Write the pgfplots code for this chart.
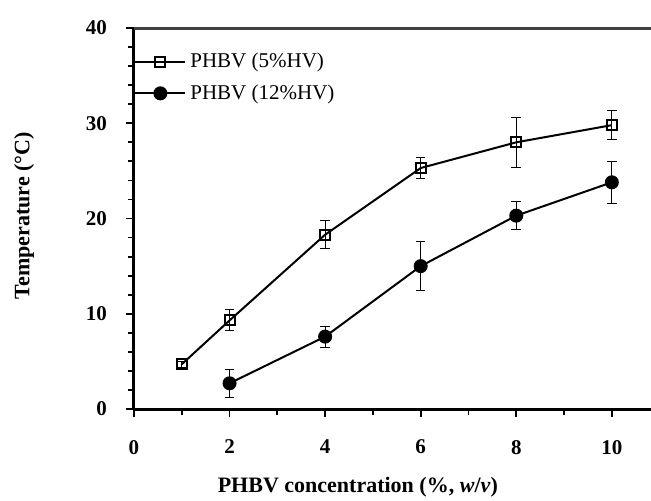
\documentclass[border=0pt]{standalone}
\usepackage{fontspec}
\setmainfont{Liberation Serif}
\usepackage{pgfplots}
\pgfplotsset{compat=1.18}
\pgfplotstableread{
x y e
1 4.7 0.3
2 9.3 1.1
4 18.3 1.5
6 25.3 1.1
8 28.0 2.6
10 29.8 1.5
}\lowhv
\pgfplotstableread{
x y e
2 2.7 1.5
4 7.6 1.1
6 15.0 2.6
8 20.3 1.5
10 23.8 2.2
}\highhv
\begin{document}
\begin{tikzpicture}
\begin{axis}[
  at={(0,0)}, anchor=south west,
  scale only axis, width=258.5pt, height=190.5pt,
  xmin=0, xmax=10.82, ymin=0, ymax=40,
  axis x line*=bottom, axis y line*=left,
  axis line style={line width=1.5pt, -},
  xtick={0,2,4,6,8,10}, minor xtick={1,3,5,7,9},
  ytick={0,10,20,30,40}, minor ytick={2,4,6,8,12,14,16,18,22,24,26,28,32,34,36,38},
  tick align=outside,
  major tick length=4pt, minor tick length=3pt,
  tick style={line width=0.9pt, black},
  /pgf/number format/assume math mode=true,
  ticklabel style={font=\fontsize{10.5}{12}\selectfont\bfseries},
  xticklabel shift=8pt,
  yticklabel shift=6pt,
  xlabel={\bfseries PHBV concentration (\%, \textit{w}/\textit{v})},
  ylabel={\bfseries Temperature (°C)},
  label style={font=\fontsize{11}{13}\selectfont},
  xlabel style={at={(axis description cs:0.433,0)}, anchor=center, yshift=-39pt},
  ylabel style={at={(axis description cs:-0.2128,0.507)}, anchor=center, rotate=0},
  legend style={at={(axis description cs:0,0.870)}, anchor=west, draw=none, fill=none,
    inner sep=0pt, row sep=3pt, font=\fontsize{10.5}{12}\selectfont},
  legend cell align=left,
  /tikz/every even column/.append style={column sep=2pt},
  legend image code/.code={\draw[mark repeat=2,mark phase=2] plot coordinates {(0pt,0pt) (12.5pt,0pt) (25pt,0pt)};},
  clip=false,
]
\addplot[black, line width=1pt, mark=square, mark size=2.5pt, mark options={line width=1pt, solid},
  error bars/.cd, y dir=both, y explicit, error bar style={line width=0.5pt, black},
  error mark options={rotate=90, mark size=2.4pt, line width=0.5pt}]
  table[x=x, y=y, y error=e] {\lowhv};
\addlegendentry{PHBV (5\%HV)}
\addplot[black, line width=1pt, mark=*, mark size=3pt, mark options={solid, fill=black},
  error bars/.cd, y dir=both, y explicit, error bar style={line width=0.5pt, black},
  error mark options={rotate=90, mark size=2.4pt, line width=0.5pt}]
  table[x=x, y=y, y error=e] {\highhv};
\addlegendentry{PHBV (12\%HV)}
\draw[black!75, line width=1.5pt] (rel axis cs:0,1) -- (rel axis cs:1,1);
\end{axis}
\pgfresetboundingbox
\path[use as bounding box] (-67pt,-45.5pt) rectangle (258.5pt,204.5pt);
\end{tikzpicture}
\end{document}
